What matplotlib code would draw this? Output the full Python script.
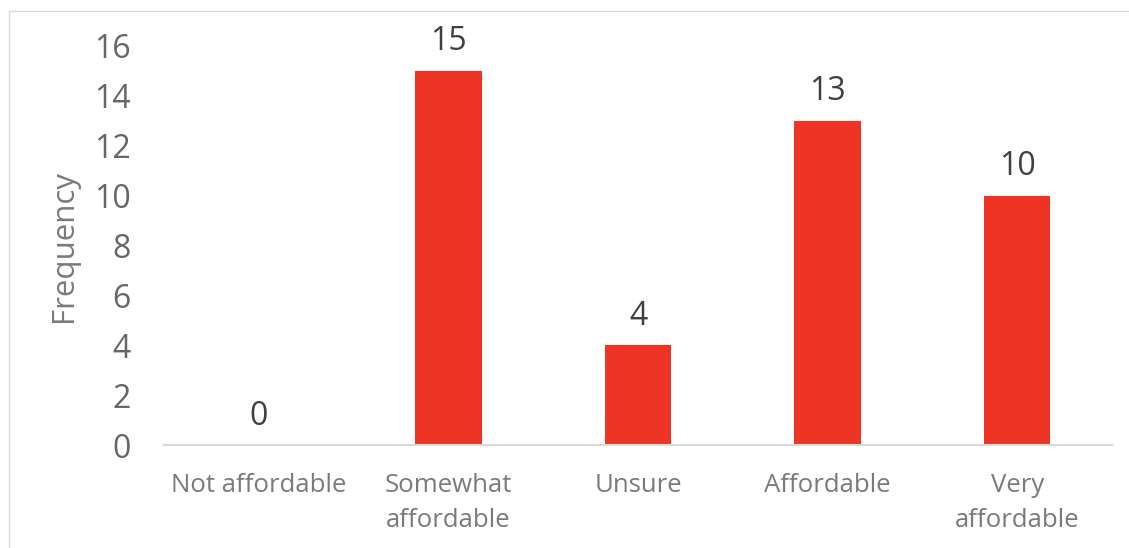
import matplotlib.pyplot as plt
from matplotlib.patches import Rectangle

plt.rcParams['font.family'] = ['Open Sans', 'DejaVu Sans']

categories = ["Not affordable", "Somewhat\naffordable", "Unsure", "Affordable", "Very\naffordable"]
frequency = [0, 15, 4, 13, 10]

bar_color = "#EE3424"

fig = plt.figure(figsize=(11.29, 5.48), dpi=100)
ax = fig.add_axes([164 / 1129, 1 - 445 / 548, 948 / 1129, 399 / 548])

x = range(len(categories))
ax.bar(x, frequency, width=0.35, color=bar_color, zorder=2)
for xi, v in zip(x, frequency):
    ax.text(xi, v + 0.5, str(v), ha="center", va="bottom", fontsize=23, color="#404040")

ax.set_xlim(-0.5, len(categories) - 0.5)
ax.set_ylim(0, 16)
ax.set_yticks(range(0, 17, 2))
ax.set_xticks(list(x))
ax.set_xticklabels(categories, fontsize=18.5, color="#7a7a7a", linespacing=1.55)
ax.tick_params(axis="y", labelsize=23, labelcolor="#666666", length=0, pad=24)
ax.tick_params(axis="x", length=0, pad=20)

for s in ["top", "right", "left"]:
    ax.spines[s].set_visible(False)
ax.spines["bottom"].set_color("#d9d9d9")
ax.spines["bottom"].set_linewidth(1.5)

ax.set_ylabel("Frequency", fontsize=22.5, color="#7a7a7a", labelpad=11)

# outer chart border
fig.patches.append(Rectangle((9 / 1129, -0.1), 1.2, 1 - 11 / 548 + 0.1, transform=fig.transFigure,
                             fill=False, edgecolor="#d9d9d9", linewidth=1))

fig.savefig("out.png", dpi=100)
